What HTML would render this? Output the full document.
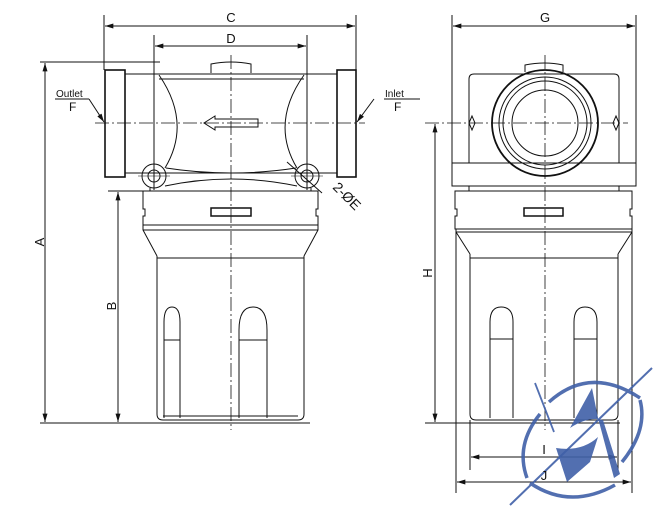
<!DOCTYPE html>
<html><head><meta charset="utf-8"><style>
html,body{margin:0;padding:0;background:#fff;width:655px;height:507px;overflow:hidden}
svg{display:block}
text{font-family:"Liberation Sans",sans-serif;fill:#111}
</style></head><body>
<svg width="655" height="507" viewBox="0 0 655 507" xmlns="http://www.w3.org/2000/svg">
<defs>
<marker id="a" viewBox="0 0 10 6" refX="10" refY="3" markerWidth="9" markerHeight="5" orient="auto-start-reverse"><path d="M0,0L10,3L0,6Z" fill="#111"/></marker>
</defs>
<g stroke="#111" fill="none" stroke-width="1">
<line x1="104" y1="15" x2="104" y2="70"/><line x1="356" y1="15" x2="356" y2="70"/>
<line x1="105" y1="26" x2="355" y2="26" marker-start="url(#a)" marker-end="url(#a)"/>
<line x1="154" y1="35" x2="154" y2="190"/><line x1="307" y1="35" x2="307" y2="190"/>
<line x1="155" y1="46" x2="306" y2="46" marker-start="url(#a)" marker-end="url(#a)"/>
<line x1="231" y1="55" x2="231" y2="430" stroke-dasharray="14 3 2 3" stroke-width="0.8"/>
<line x1="95" y1="123" x2="365" y2="123" stroke-dasharray="14 3 2 3" stroke-width="0.8"/>
<line x1="40" y1="62" x2="160" y2="62"/>
<line x1="45" y1="63" x2="45" y2="422" marker-start="url(#a)" marker-end="url(#a)"/>
<line x1="108" y1="191" x2="143" y2="191"/>
<line x1="118" y1="192" x2="118" y2="422" marker-start="url(#a)" marker-end="url(#a)"/>
<line x1="40" y1="423" x2="310" y2="423"/>
<rect x="105" y="70" width="20" height="107" stroke-width="1.6"/>
<rect x="337" y="70" width="19" height="107" stroke-width="1.6"/>
<line x1="125" y1="74" x2="337" y2="74"/><line x1="125" y1="173" x2="337" y2="173"/>
<path d="M211,73 L211,64 Q231,60 251,64 L251,73"/>
<line x1="159" y1="79" x2="304" y2="79"/>
<path d="M159,75 Q192,123 165,168"/>
<path d="M304,75 Q270,123 297,168"/>
<path d="M166,168 Q231,178 296,168"/>
<path d="M165,186 Q231,172 297,186"/>
<path d="M258,119 L215,119 L215,116 L204,123 L215,130 L215,127 L258,127 Z"/>
<circle cx="154" cy="176" r="12"/><circle cx="154" cy="176" r="6"/>
<circle cx="307" cy="176" r="12"/><circle cx="307" cy="176" r="6"/>
<line x1="138" y1="176" x2="170" y2="176" stroke-width="0.6"/><line x1="291" y1="176" x2="323" y2="176" stroke-width="0.6"/>
<line x1="150" y1="188" x2="150" y2="191"/><line x1="311" y1="188" x2="311" y2="191"/>
<line x1="287" y1="162" x2="322" y2="193"/>
<path d="M143,191 L318,191 L318,209 L316,209 L316,216 L318,216 L318,225 L143,225 L143,216 L145,216 L145,209 L143,209 Z"/>
<line x1="143" y1="230" x2="318" y2="230"/>
<path d="M143,225 L143,230 L157,256 M318,225 L318,230 L304,256"/>
<line x1="157" y1="258" x2="304" y2="258"/>
<rect x="211" y="208" width="40" height="8" stroke-width="1.5"/>
<path d="M157,256 L157,414 Q157,420 163,420 L298,420 Q304,420 304,414 L304,256"/>
<line x1="163" y1="416" x2="298" y2="416"/>
<path d="M164,418 L164,322 Q164,307 172,307 Q180,307 180,322 L180,418"/>
<line x1="164" y1="340" x2="180" y2="340"/>
<path d="M239,418 L239,330 Q239,307 253,307 Q267,307 267,330 L267,418"/>
<line x1="239" y1="340" x2="267" y2="340"/>
<line x1="55" y1="99" x2="89" y2="99"/><line x1="89" y1="99" x2="104" y2="122" marker-end="url(#a)"/>
<line x1="420" y1="99" x2="384" y2="99"/><line x1="374" y1="99" x2="357" y2="122" marker-end="url(#a)"/>

<line x1="452" y1="15" x2="452" y2="186"/><line x1="636" y1="15" x2="636" y2="186"/>
<line x1="453" y1="26" x2="635" y2="26" marker-start="url(#a)" marker-end="url(#a)"/>
<line x1="545" y1="55" x2="545" y2="430" stroke-dasharray="14 3 2 3" stroke-width="0.8"/>
<line x1="425" y1="123" x2="628" y2="123" stroke-dasharray="14 3 2 3" stroke-width="0.8"/>
<line x1="435" y1="124" x2="435" y2="422" marker-start="url(#a)" marker-end="url(#a)"/>
<line x1="425" y1="423" x2="620" y2="423"/>
<path d="M525,72 L525,65 Q545,61 563,65 L563,72"/>
<path d="M469,163 L469,79 Q469,74 474,74 L614,74 Q619,74 619,79 L619,163"/>
<rect x="452" y="163" width="184" height="23"/>
<circle cx="545" cy="123" r="53" stroke-width="1.8"/>
<circle cx="545" cy="123" r="46"/>
<circle cx="545" cy="123" r="42"/>
<circle cx="545" cy="123" r="33"/>
<path d="M472,116 L469,123 L472,130 L475,123 Z"/>
<path d="M616,116 L619,123 L616,130 L613,123 Z"/>
<line x1="469" y1="186" x2="469" y2="191"/><line x1="619" y1="186" x2="619" y2="191"/>
<path d="M455,191 L632,191 L632,209 L630,209 L630,216 L632,216 L632,229 L455,229 L455,216 L457,216 L457,209 L455,209 Z"/>
<rect x="524" y="208" width="39" height="8" stroke-width="1.5"/>
<path d="M456,232 L632,232 M456,232 L470,254 M632,232 L618,254"/>
<line x1="470" y1="258" x2="618" y2="258"/>
<line x1="456" y1="229" x2="456" y2="493"/><line x1="632" y1="229" x2="632" y2="493"/>
<path d="M470,254 L470,414 Q470,420 476,420 L612,420 Q618,420 618,414 L618,254"/>
<line x1="470" y1="420" x2="470" y2="470"/><line x1="618" y1="420" x2="618" y2="470"/>
<path d="M490,418 L490,322 Q490,307 501,307 Q513,307 513,322 L513,418"/>
<line x1="490" y1="339" x2="513" y2="339"/>
<path d="M574,418 L574,322 Q574,307 585,307 Q597,307 597,322 L597,418"/>
<line x1="574" y1="339" x2="597" y2="339"/>
<line x1="471" y1="457" x2="617" y2="457" marker-start="url(#a)" marker-end="url(#a)"/>
<line x1="457" y1="482" x2="631" y2="482" marker-start="url(#a)" marker-end="url(#a)"/>
</g>
<g stroke="#4060a8" fill="none" stroke-width="3.5" opacity="0.9">
<path d="M549,402 Q590,365 640,398"/>
<path d="M540,414 Q515,445 527,478"/>
<path d="M530,483 Q570,510 615,485"/>
<path d="M640,400 Q648,430 622,462"/>
<line x1="510" y1="505" x2="652" y2="368" stroke-width="2"/>
<line x1="535" y1="383" x2="554" y2="432" stroke-width="1.8"/>
</g>
<g fill="#4060a8" opacity="0.9">
<path d="M592,388 L570,428 Q588,416 603,420 L620,474 L614,478 L598,418 Z"/>
<path d="M556,448 Q582,452 598,437 L590,462 L567,482 Z"/>
</g>
<text x="231" y="22" font-size="13" text-anchor="middle">C</text>
<text x="231" y="43" font-size="13" text-anchor="middle">D</text>
<text x="545" y="22" font-size="13" text-anchor="middle">G</text>
<text x="56" y="97" font-size="10">Outlet</text>
<text x="69" y="111" font-size="12">F</text>
<text x="385" y="97" font-size="10">Inlet</text>
<text x="394" y="111" font-size="12">F</text>
<text transform="translate(44,242) rotate(-90)" font-size="13" text-anchor="middle">A</text>
<text transform="translate(116,306) rotate(-90)" font-size="13" text-anchor="middle">B</text>
<text transform="translate(432,273) rotate(-90)" font-size="13" text-anchor="middle">H</text>
<text transform="translate(332,188) rotate(45)" font-size="14">2-ØE</text>
<text x="544" y="454" font-size="13" text-anchor="middle">I</text>
<text x="544" y="480" font-size="13" text-anchor="middle">J</text>
</svg>
</body></html>
